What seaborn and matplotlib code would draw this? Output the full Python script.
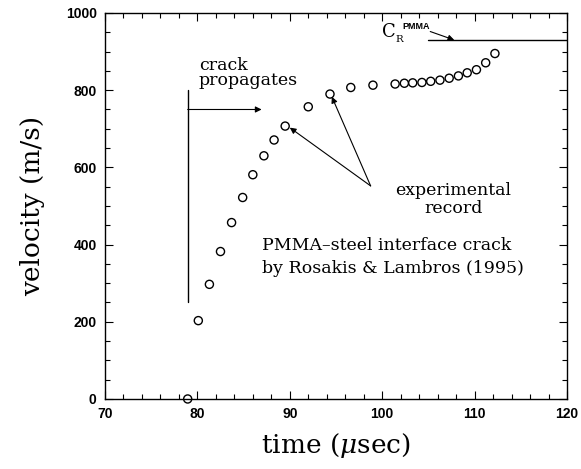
import matplotlib
matplotlib.use("Agg")
import matplotlib.pyplot as plt
from matplotlib.ticker import MultipleLocator
import seaborn as sns
import pandas as pd

# Crack-tip velocity history, PMMA-steel interface (Rosakis & Lambros 1995)
time_us = [78.95, 80.1, 81.3, 82.5, 83.7, 84.9, 86.0, 87.2, 88.3, 89.5,
           92.0, 94.35, 96.6, 99.0, 101.4, 102.4, 103.3, 104.3, 105.25,
           106.25, 107.25, 108.25, 109.2, 110.2, 111.2, 112.2]
velocity = [0, 203, 297, 382, 457, 522, 581, 630, 671, 707,
            757, 790, 807, 813, 816, 818, 819, 820, 823,
            826, 831, 837, 845, 853, 871, 895]

# Rayleigh wave speed of PMMA
c_r_pmma = 930

x_ticks = [70, 80, 90, 100, 110, 120]
y_ticks = [0, 200, 400, 600, 800, 1000]

df = pd.DataFrame({"time": time_us, "velocity": velocity})

sns.set_style("white")
plt.rcParams["font.family"] = ["DejaVu Serif"]
plt.rcParams["mathtext.fontset"] = "dejavuserif"
for key in ("text.color", "axes.labelcolor", "xtick.color", "ytick.color",
            "axes.edgecolor"):
    plt.rcParams[key] = "black"

fig = plt.figure(figsize=(5.81, 4.69), dpi=100)
ax = fig.add_axes([0.1807, 0.1493, 0.7952, 0.8230])

sns.scatterplot(data=df, x="time", y="velocity", ax=ax, marker="o",
                s=34, facecolor="none", edgecolor="black", linewidth=1.0,
                clip_on=False, zorder=5)

ax.set_xlim(70, 120)
ax.set_ylim(0, 1000)
ax.xaxis.set_minor_locator(MultipleLocator(2))
ax.yaxis.set_minor_locator(MultipleLocator(50))
ax.set_xticks(x_ticks)
ax.set_yticks(y_ticks)
ax.set_xticklabels([str(v) for v in x_ticks])
ax.set_yticklabels([str(v) for v in y_ticks])

ax.tick_params(which="both", direction="in", top=True, right=True,
               bottom=True, left=True, color="black", labelcolor="black",
               width=0.8)
ax.tick_params(which="major", length=6, pad=6)
ax.tick_params(which="minor", length=3.5)
for lab in ax.get_xticklabels() + ax.get_yticklabels():
    lab.set_family("Liberation Sans")
    lab.set_fontweight("bold")
    lab.set_fontsize(10)

for sp in ax.spines.values():
    sp.set_color("black")
    sp.set_linewidth(1.0)

ax.set_xlabel(r"time ($\mu$sec)", fontsize=19, labelpad=7)
ax.set_ylabel("velocity (m/s)", fontsize=19, labelpad=15)

arrow_kw = dict(arrowstyle="-|>", color="black", lw=0.8,
                mutation_scale=9, shrinkA=0, shrinkB=0)

# crack initiation marker
ax.plot([78.95, 78.95], [250, 800], color="black", lw=1.0)
ax.annotate("", xy=(86.95, 750), xytext=(78.95, 750), arrowprops=arrow_kw)
ax.text(80.15, 853, "crack", fontsize=12.5, ha="left", va="baseline")
ax.text(80.15, 813, "propagates", fontsize=12.5, ha="left", va="baseline")

# arrows to the experimental record
ax.annotate("", xy=(90.0, 703), xytext=(98.75, 552), arrowprops=arrow_kw)
ax.annotate("", xy=(94.55, 783), xytext=(98.75, 552), arrowprops=arrow_kw)
ax.text(107.7, 528, "experimental", fontsize=12.5, ha="center", va="baseline")
ax.text(107.7, 483, "record", fontsize=12.5, ha="center", va="baseline")

ax.text(87.0, 385, "PMMA\u2013steel interface crack", fontsize=12.5,
        ha="left", va="baseline")
ax.text(87.0, 326, "by Rosakis & Lambros (1995)", fontsize=12.5,
        ha="left", va="baseline")

# Rayleigh wave speed line
ax.plot([105.0, 120.0], [c_r_pmma, c_r_pmma], color="black", lw=1.0)
ax.annotate("", xy=(107.8, c_r_pmma), xytext=(105.2, 952), arrowprops=arrow_kw)
ax.text(100.0, 938, "C", fontsize=13, ha="left", va="baseline")
ax.text(101.45, 924, "R", fontsize=7.5, ha="left", va="baseline")
ax.text(102.2, 958, "PMMA", fontsize=6.5, ha="left", va="baseline",
        family="Liberation Sans", fontweight="bold")

fig.savefig("out.png", dpi=100)
